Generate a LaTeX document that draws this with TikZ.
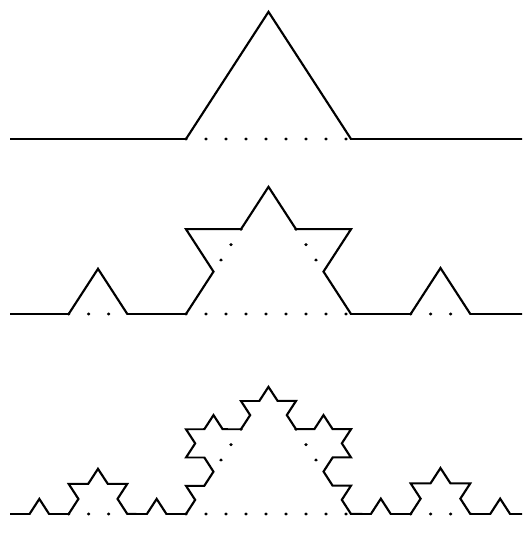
\documentclass[tikz,border=0pt]{standalone}
\usepackage{tikz}
\usetikzlibrary{decorations.fractals}
\tikzset{
  kochline/.style={line width=2.2pt, line join=miter},
  gapdots/.style={line width=3.6pt, line cap=round, dash pattern=on 0pt off 20pt},
}

\begin{document}
\begin{tikzpicture}[x=1pt, y=1pt, decoration=Koch snowflake]
                \useasboundingbox (0,0) rectangle (522,-535);
                \clip (0,0) rectangle (522,-535);
                % first step
                \begin{scope}[transform canvas={shift={(0,-139)},yscale=0.89}]
                    \draw[kochline] (10,0) -- (186,0) -- (268.5,142.9) -- (351,0) -- (530,0);
                    \draw[gapdots] (186,0) -- (351,0);
                \end{scope}
                % second step
                \begin{scope}[transform canvas={shift={(0,-314)},yscale=0.89}]
                    \draw[kochline] decorate{(10,0) -- (186,0) -- (268.5,142.9) -- (351,0) -- (530,0)};
                    \foreach \a/\b in {{(186,0)}/{(351,0)},{(68.67,0)}/{(127.33,0)},{(410.67,0)}/{(470.33,0)},
                                       {(241,95.26)}/{(213.5,47.63)},{(296,95.26)}/{(323.5,47.63)}}
                        {\draw[gapdots] \a -- \b;}
                \end{scope}
                % third step
                \begin{scope}[transform canvas={shift={(0,-514)},yscale=0.89}]
                    \draw[kochline] decorate{decorate{(10,0) -- (186,0) -- (268.5,142.9) -- (351,0) -- (530,0)}};
                    \foreach \a/\b in {{(186,0)}/{(351,0)},{(68.67,0)}/{(127.33,0)},{(410.67,0)}/{(470.33,0)},
                                       {(241,95.26)}/{(213.5,47.63)},{(296,95.26)}/{(323.5,47.63)}}
                        {\draw[gapdots] \a -- \b;}
                \end{scope}
            \end{tikzpicture}
\end{document}
